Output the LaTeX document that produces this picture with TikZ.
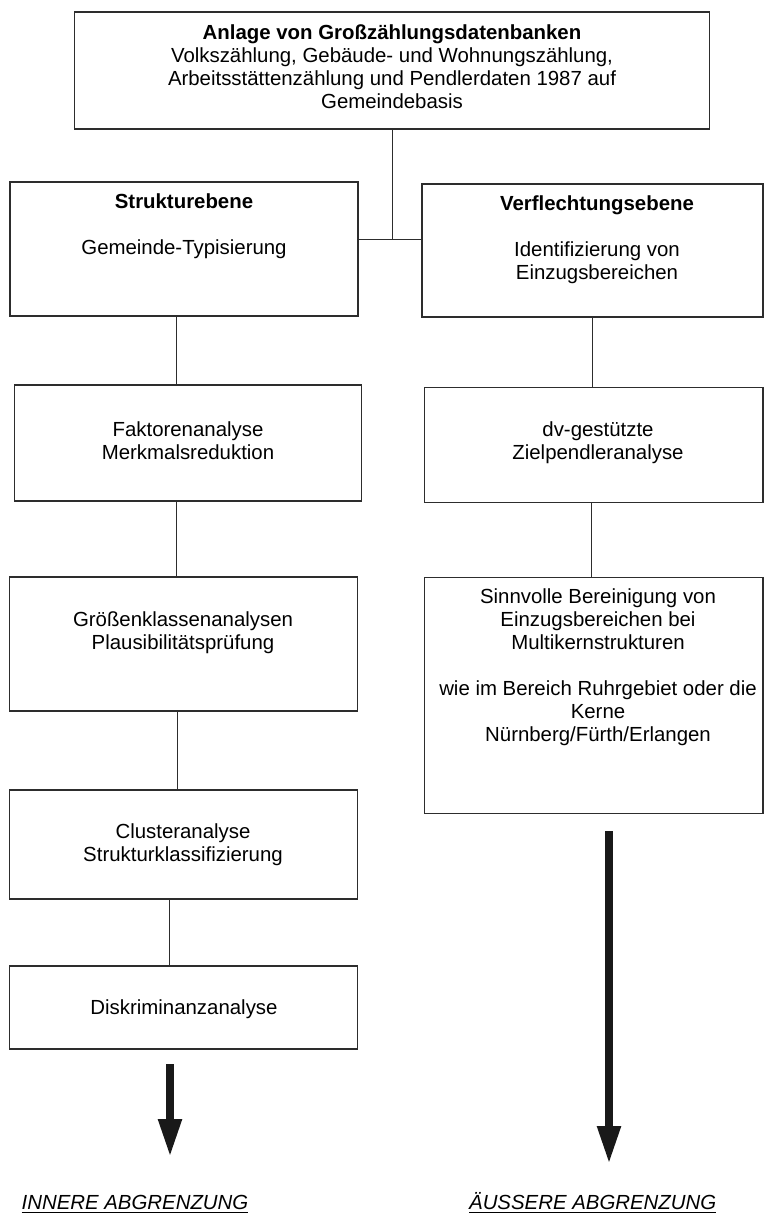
\documentclass[tikz,border=0pt]{standalone}
\usepackage{fontspec}
\setmainfont{Liberation Sans}
\usepackage{tikz}
\usetikzlibrary{arrows.meta, positioning, calc}
\definecolor{rahmen}{RGB}{45, 45, 45}
\definecolor{pfeil}{RGB}{25, 25, 25}
\newlength{\px}
\setlength{\px}{0.5pt}
\tikzset{
  kasten/.style={draw=rahmen, line width=0.55pt, inner sep=0pt},
  txt/.style={align=center, inner sep=0pt, font=\fontsize{10.2}{11.5}\selectfont},
  linie/.style={draw=rahmen, line width=0.5pt},
  dickpfeil/.style={draw=pfeil, line width=4pt, -{Triangle[width=11pt, length=19pt]}},
  ziel/.style={inner sep=0pt, font=\fontsize{10.2}{11.5}\selectfont\itshape}
}

\begin{document}
\begin{tikzpicture}[x=\px, y=-\px]
  \useasboundingbox (0,0) rectangle (764,1214);

  % Datenbasis
  \node[kasten, minimum width=635\px, minimum height=117\px] (anlage) at (392,70.5) {};
  \node[txt] (anlageT) at (392,66.7) {\textbf{Anlage von Großzählungsdatenbanken}\\
    Volkszählung, Gebäude- und Wohnungszählung,\\
    Arbeitsstättenzählung und Pendlerdaten 1987 auf\\
    Gemeindebasis};

  % Strukturebene
  \node[kasten, minimum width=348\px, minimum height=134\px] (struktur) at (184,249) {};
  \node[txt] (strukturT) at (184,226.5) {\textbf{Strukturebene}\\[23\px]Gemeinde-Typisierung};

  % Verflechtungsebene
  \node[kasten, minimum width=341\px, minimum height=133\px] (verfl) at (592.5,250.5) {};
  \node[txt] (verflT) at (597,239.5) {\textbf{Verflechtungsebene}\\[23\px]Identifizierung von\\Einzugsbereichen};

  \coordinate (knoten) at (392,240);
  \draw[linie] (anlage.south) -- (knoten);
  \draw[linie] (struktur.east |- knoten) -- (verfl.west |- knoten);

  % linke Spalte
  \node[kasten, minimum width=347\px, minimum height=116\px] (faktor) at (188,443) {};
  \node[txt] (faktorT) at (188,441) {Faktorenanalyse\\Merkmalsreduktion};

  \node[kasten, minimum width=348\px, minimum height=134\px] (groessen) at (183.7,644) {};
  \node[txt] (groessenT) at (183,633) {Größenklassenanalysen\\Plausibilitätsprüfung};

  \node[kasten, minimum width=348\px, minimum height=109\px] (cluster) at (183.7,844.5) {};
  \node[txt] (clusterT) at (183,845) {Clusteranalyse\\Strukturklassifizierung};

  \node[kasten, minimum width=348\px, minimum height=83\px] (diskrim) at (183.7,1007.5) {};
  \node[txt] (diskrimT) at (184,1009) {Diskriminanzanalyse};

  \draw[linie] ([xshift=-8\px]struktur.south) -- ([xshift=-8\px]struktur.south |- faktor.north);
  \draw[linie] ([xshift=-12\px]faktor.south) -- ([xshift=-12\px]faktor.south |- groessen.north);
  \draw[linie] ([xshift=-6\px]groessen.south) -- ([xshift=-6\px]groessen.south |- cluster.north);
  \draw[linie] ([xshift=-14\px]cluster.south) -- ([xshift=-14\px]cluster.south |- diskrim.north);

  % rechte Spalte
  \node[kasten, minimum width=338.5\px, minimum height=115.4\px] (dv) at (593.7,445) {};
  \node[txt] (dvT) at (598,443) {dv-gestützte\\Zielpendleranalyse};

  \node[kasten, minimum width=338.5\px, minimum height=236.4\px] (sinn) at (593.7,695.5) {};
  \node[txt] (sinnT) at (598,667.5) {Sinnvolle Bereinigung von\\Einzugsbereichen bei\\Multikernstrukturen\\[11.5pt]
    wie im Bereich Ruhrgebiet oder die\\Kerne\\Nürnberg/Fürth/Erlangen};

  \draw[linie] (verfl.south) -- (verfl.south |- dv.north);
  \draw[linie] ([xshift=-2\px]dv.south) -- ([xshift=-2\px]dv.south |- sinn.north);

  % Abgrenzung
  \coordinate (innenA) at (170,1064);
  \coordinate (innenB) at (170,1157);
  \coordinate (aussenA) at (609,831);
  \coordinate (aussenB) at (609,1164);
  \draw[dickpfeil] (innenA) -- (innenB);
  \draw[dickpfeil] (aussenA) -- (aussenB);

  \node[ziel, anchor=base] (innen) at (135,1209.5) {\underline{INNERE ABGRENZUNG}};
  \node[ziel, anchor=base] (aussen) at (592.7,1209.5) {\underline{ÄUSSERE ABGRENZUNG}};
\end{tikzpicture}
\end{document}
